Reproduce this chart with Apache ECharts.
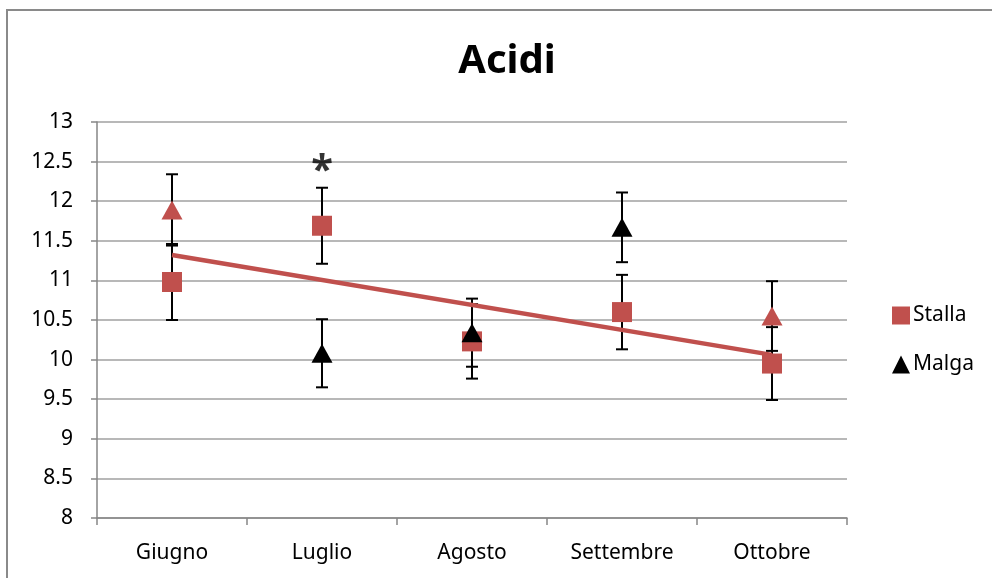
<!DOCTYPE html>
<html>
<head>
<meta charset="utf-8">
<script src="https://cdn.jsdelivr.net/npm/echarts@6/dist/echarts.min.js"></script>
<style>
  html, body { margin: 0; padding: 0; background: #fff; }
  #chart { width: 992px; height: 578px; }
</style>
</head>
<body>
<div id="chart"></div>
<script>
// values
const months = ["Giugno", "Luglio", "Agosto", "Settembre", "Ottobre"];
const stalla = [10.98, 11.69, 10.23, 10.60, 9.95];
const stallaErr = [0.48, 0.48, 0.47, 0.47, 0.46];
const malga = [11.89, 10.08, 10.34, 11.67, 10.55];
const malgaErr = [0.45, 0.43, 0.43, 0.44, 0.44];
// Giugno and Ottobre triangles are drawn red in the original
const malgaColors = ["#C0504D", "#000000", "#000000", "#000000", "#C0504D"];
const yTicks = [8, 8.5, 9, 9.5, 10, 10.5, 11, 11.5, 12, 12.5, 13];
const asterisk = [{ month: "Luglio", value: 12.5, text: "*" }];

const red = "#C0504D";
const font = "'Noto Sans', 'Open Sans', sans-serif";

// linear trend of Stalla (least squares over 1..n)
function trend(vals) {
  const n = vals.length;
  const xs = vals.map((_, i) => i + 1);
  const mx = xs.reduce((a, b) => a + b, 0) / n;
  const my = vals.reduce((a, b) => a + b, 0) / n;
  let num = 0, den = 0;
  xs.forEach((x, i) => { num += (x - mx) * (vals[i] - my); den += (x - mx) * (x - mx); });
  const slope = num / den;
  return xs.map(x => my + slope * (x - mx));
}
const stallaTrend = trend(stalla);

function errorData(vals, errs) {
  return vals.map((v, i) => [i, v - errs[i], v + errs[i]]);
}

function renderError(params, api) {
  const lo = api.coord([api.value(0), api.value(1)]);
  const hi = api.coord([api.value(0), api.value(2)]);
  const half = 6;
  const style = { stroke: "#000", lineWidth: 2 };
  return {
    type: "group",
    children: [
      { type: "line", shape: { x1: hi[0], y1: hi[1], x2: lo[0], y2: lo[1] }, style },
      { type: "line", shape: { x1: hi[0] - half, y1: hi[1], x2: hi[0] + half, y2: hi[1] }, style },
      { type: "line", shape: { x1: lo[0] - half, y1: lo[1], x2: lo[0] + half, y2: lo[1] }, style }
    ]
  };
}

const chart = echarts.init(document.getElementById("chart"), null, { renderer: "canvas" });

chart.setOption({
  animation: false,
  backgroundColor: "#fff",
  textStyle: { fontFamily: font },
  title: {
    text: "Acidi",
    left: 502,
    textAlign: "center",
    top: 37,
    textStyle: { fontFamily: font, fontSize: 40, fontWeight: "bold", color: "#000" }
  },
  graphic: [{
    type: "rect",
    shape: { x: 7, y: 10, width: 1000, height: 600 },
    style: { fill: "none", stroke: "#8a8a8a", lineWidth: 2 },
    silent: true
  }],
  legend: {
    orient: "vertical",
    left: 887,
    top: 300,
    itemGap: 28,
    itemWidth: 18,
    itemHeight: 18,
    textStyle: { fontFamily: font, fontSize: 21, color: "#000", padding: [0, 0, 0, -2] },
    data: [
      { name: "Stalla", icon: "rect", itemStyle: { color: red, opacity: 1 } },
      { name: "Malga", icon: "triangle", itemStyle: { color: "#000", opacity: 1 } }
    ]
  },
  grid: { left: 97, right: 145, top: 122, bottom: 60 },
  xAxis: {
    type: "category",
    data: months,
    boundaryGap: true,
    axisLine: { lineStyle: { color: "#868686", width: 1.5 } },
    axisTick: { show: true, length: 7, lineStyle: { color: "#868686", width: 1.5 } },
    axisLabel: { color: "#000", fontSize: 21, margin: 25, fontFamily: font }
  },
  yAxis: {
    type: "value",
    min: yTicks[0],
    max: yTicks[yTicks.length - 1],
    interval: 0.5,
    axisLine: { show: true, lineStyle: { color: "#868686", width: 1.5 } },
    axisTick: { show: true, length: 6, lineStyle: { color: "#868686", width: 1.5 } },
    axisLabel: { color: "#000", fontSize: 21, margin: 24, fontFamily: font },
    splitLine: { lineStyle: { color: "#a0a0a0", width: 1.5 } }
  },
  series: [
    {
      name: "errStalla",
      type: "custom",
      renderItem: renderError,
      data: errorData(stalla, stallaErr),
      encode: { x: 0, y: [1, 2] },
      z: 3
    },
    {
      name: "errMalga",
      type: "custom",
      renderItem: renderError,
      data: errorData(malga, malgaErr),
      encode: { x: 0, y: [1, 2] },
      z: 3
    },
    {
      name: "trend",
      type: "line",
      data: [[0, stallaTrend[0]], [months.length - 1, stallaTrend[stallaTrend.length - 1]]],
      symbol: "none",
      lineStyle: { color: red, width: 4.5 },
      z: 4
    },
    {
      name: "Stalla",
      type: "scatter",
      data: stalla,
      symbol: "rect",
      symbolSize: 20,
      itemStyle: { color: red, opacity: 1 },
      z: 5
    },
    {
      name: "Malga",
      type: "scatter",
      data: malga.map((v, i) => ({ value: v, itemStyle: { color: malgaColors[i], opacity: 1 } })),
      symbol: "triangle",
      symbolSize: [21, 19],
      itemStyle: { color: "#000", opacity: 1 },
      z: 6
    },
    {
      name: "mark",
      type: "scatter",
      data: asterisk.map(a => [a.month, a.value]),
      symbolSize: 0,
      label: {
        show: true,
        position: "inside",
        formatter: () => asterisk[0].text,
        fontSize: 40,
        fontWeight: "bold",
        color: "#000",
        fontFamily: font,
        offset: [0, 10]
      },
      z: 7
    }
  ]
});
</script>
</body>
</html>
